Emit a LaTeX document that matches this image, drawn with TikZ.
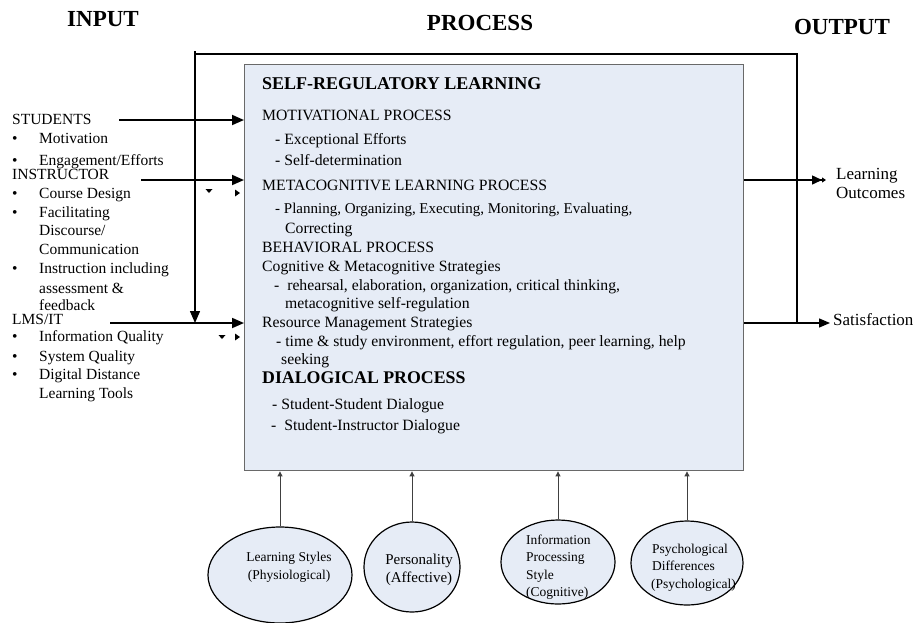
\documentclass[tikz,border=0pt]{standalone}
\usepackage{fontspec}
\setmainfont{Liberation Serif}
\usetikzlibrary{arrows.meta,shapes.geometric}
\definecolor{boxfill}{RGB}{230,236,246}
\definecolor{boxline}{RGB}{105,105,105}
\begin{document}
\begin{tikzpicture}[x=1pt,y=-1pt,
  txt/.style={anchor=west,inner sep=0pt,font=\fontsize{15.7}{18}\selectfont,text height=0.7em,text depth=0.2em},
  ltxt/.style={txt,font=\fontsize{15.5}{18}\selectfont},
  otxt/.style={txt,font=\fontsize{17}{20}\selectfont},
  etxt/.style={txt,font=\fontsize{13.5}{16}\selectfont},
  title/.style={inner sep=0pt,font=\bfseries\fontsize{23}{27}\selectfont},
  hdr/.style={txt,font=\bfseries\fontsize{18}{21}\selectfont},
  inarrow/.style={line width=1.8pt,-{Triangle[length=12pt,width=10pt]}},
  fbline/.style={line width=1.4pt},
  outarrow/.style={line width=1.4pt},
  botarrow/.style={line width=0.9pt,draw=black!75,-{Triangle[length=5pt,width=5pt]}},
  circ/.style={ellipse,draw,line width=1.2pt,fill=boxfill,inner sep=0pt}]
\useasboundingbox (0,0) rectangle (917,622);

% titles
\node[title] (tin) at (103,19) {INPUT};
\node[title] (tpr) at (480,23) {PROCESS};
\node[title] (tout) at (842,27) {OUTPUT};

% main box
\node[draw=boxline,line width=1.4pt,fill=boxfill,minimum width=499pt,minimum height=406pt,inner sep=0pt,anchor=north west] (box) at (244,64) {};

% feedback loop points
\coordinate (fbR) at (797,54);
\coordinate (fbL) at (195,54);
\coordinate (fbTop) at (195,51);
\coordinate (fbEnd) at (195,323);
\coordinate (satS) at (797,323);

% box texts
\node[hdr] (srl) at (262,87) {SELF-REGULATORY LEARNING};
\node[txt] (mp) at (262,118) {MOTIVATIONAL PROCESS};
\node[txt] (mp1) at (275,142) {- Exceptional Efforts};
\node[txt] (mp2) at (275,163) {- Self-determination};
\node[txt] (mlp) at (262,188) {METACOGNITIVE LEARNING PROCESS};
\node[txt,font=\fontsize{15}{18}\selectfont] (mlp1) at (275,211) {- Planning, Organizing, Executing, Monitoring, Evaluating,};
\node[txt] (mlp2) at (285,231) {Correcting};
\node[txt] (bp) at (262,250) {BEHAVIORAL PROCESS};
\node[txt] (cms) at (262,269) {Cognitive \& Metacognitive Strategies};
\node[txt] (cms1) at (274,288) {-\ \ rehearsal, elaboration, organization, critical thinking,};
\node[txt] (cms2) at (285,306) {metacognitive self-regulation};
\node[txt] (rms) at (262,325) {Resource Management Strategies};
\node[txt] (rms1) at (276,344) {- time \& study environment, effort regulation, peer learning, help};
\node[txt] (rms2) at (281,362) {seeking};
\node[hdr,font=\bfseries\fontsize{17.8}{22}\selectfont] (dp) at (262,381) {DIALOGICAL PROCESS};
\node[txt] (dp1) at (272,407) {- Student-Student Dialogue};
\node[txt] (dp2) at (271,428) {-\ \ Student-Instructor Dialogue};

% left input texts
\node[ltxt] (stu) at (12,122) {STUDENTS};
\node[ltxt] (bu1) at (12,141) {•};
\node[ltxt] (i1) at (39,141) {Motivation};
\node[ltxt] (bu2) at (12,163) {•};
\node[ltxt] (i2) at (39,163) {Engagement/Efforts};
\node[ltxt] (ins) at (12,177) {INSTRUCTOR};
\node[ltxt] (bu3) at (12,196) {•};
\node[ltxt] (i3) at (39,196) {Course Design};
\node[ltxt] (bu4) at (12,215) {•};
\node[ltxt] (i4) at (39,215) {Facilitating};
\node[ltxt] (i4b) at (39,233) {Discourse/};
\node[ltxt] (i4c) at (39,252) {Communication};
\node[ltxt] (bu5) at (12,271) {•};
\node[ltxt] (i5) at (39,271) {Instruction including};
\node[ltxt] (i5b) at (39,291) {assessment \&};
\node[ltxt] (i5c) at (39,308) {feedback};
\node[ltxt] (lms) at (12,322) {LMS/IT};
\node[ltxt] (bu6) at (12,339) {•};
\node[ltxt] (i6) at (39,339) {Information Quality};
\node[ltxt] (bu7) at (12,359) {•};
\node[ltxt] (i7) at (39,359) {System Quality};
\node[ltxt] (bu8) at (12,377) {•};
\node[ltxt] (i8) at (39,377) {Digital Distance};
\node[ltxt] (i8b) at (39,396) {Learning Tools};

% input arrows
\coordinate (a1) at (119,120);
\coordinate (a2) at (141,180);
\coordinate (a3) at (110,323);
\draw[inarrow] (a1) -- (a1 -| box.west);
\draw[inarrow] (a2) -- (a2 -| box.west);
\draw[inarrow] (a3) -- (a3 -| box.west);

% feedback loop
\draw[fbline] (satS) -- (fbR) -- (fbL);
\draw[fbline,-{Triangle[length=12pt,width=10pt]}] (fbTop) -- (fbEnd);

% small stray markers
\fill (205.5,189) -- (212.5,189) -- (209,193) -- cycle;
\fill (235,189.5) -- (240,193) -- (235,196.5) -- cycle;
\fill (218.5,335) -- (225.5,335) -- (222,339) -- cycle;
\fill (235,333.5) -- (240,337) -- (235,340.5) -- cycle;

% outputs
\node[otxt] (lo1) at (836,177) {Learning};
\node[otxt] (lo2) at (836,196) {Outcomes};
\node[otxt] (sat) at (833,323) {Satisfaction};
\coordinate (o1) at (826,180);
\coordinate (o2) at (830,323);
\draw[outarrow,-{Triangle[length=10pt,width=9pt]Triangle[length=4pt,width=5pt]}] (o1 -| box.east) -- (o1);
\draw[outarrow,-{Triangle[length=11pt,width=9pt]}] (o2 -| box.east) -- (o2);

% bottom ellipses
\node[circ,minimum width=144pt,minimum height=96pt] (e1) at (280,575) {};
\node[circ,minimum width=96pt,minimum height=90pt] (e2) at (412,567) {};
\node[circ,minimum width=114pt,minimum height=84pt] (e3) at (558,562) {};
\node[circ,minimum width=112pt,minimum height=84pt] (e4) at (687,563) {};

\node[etxt,anchor=center] (e1a) at (289,559) {Learning Styles};
\node[etxt,anchor=center] (e1b) at (289,577) {(Physiological)};
\node[txt,font=\fontsize{15}{18}\selectfont,anchor=center] (e2a) at (419,562) {Personality};
\node[txt,font=\fontsize{15}{18}\selectfont,anchor=center] (e2b) at (419,580) {(Affective)};
\node[etxt] (e3a) at (526,542) {Information};
\node[etxt] (e3b) at (526,559) {Processing};
\node[etxt] (e3c) at (526,577) {Style};
\node[etxt] (e3d) at (526,594) {(Cognitive)};
\node[etxt] (e4a) at (652,551) {Psychological};
\node[etxt] (e4b) at (652,568) {Differences};
\node[etxt] (e4c) at (651,586) {(Psychological)};

\draw[botarrow] (e1.north) -- (e1.north |- box.south);
\draw[botarrow] (e2.north) -- (e2.north |- box.south);
\draw[botarrow] (e3.north) -- (e3.north |- box.south);
\draw[botarrow] (e4.north) -- (e4.north |- box.south);
\end{tikzpicture}
\end{document}
